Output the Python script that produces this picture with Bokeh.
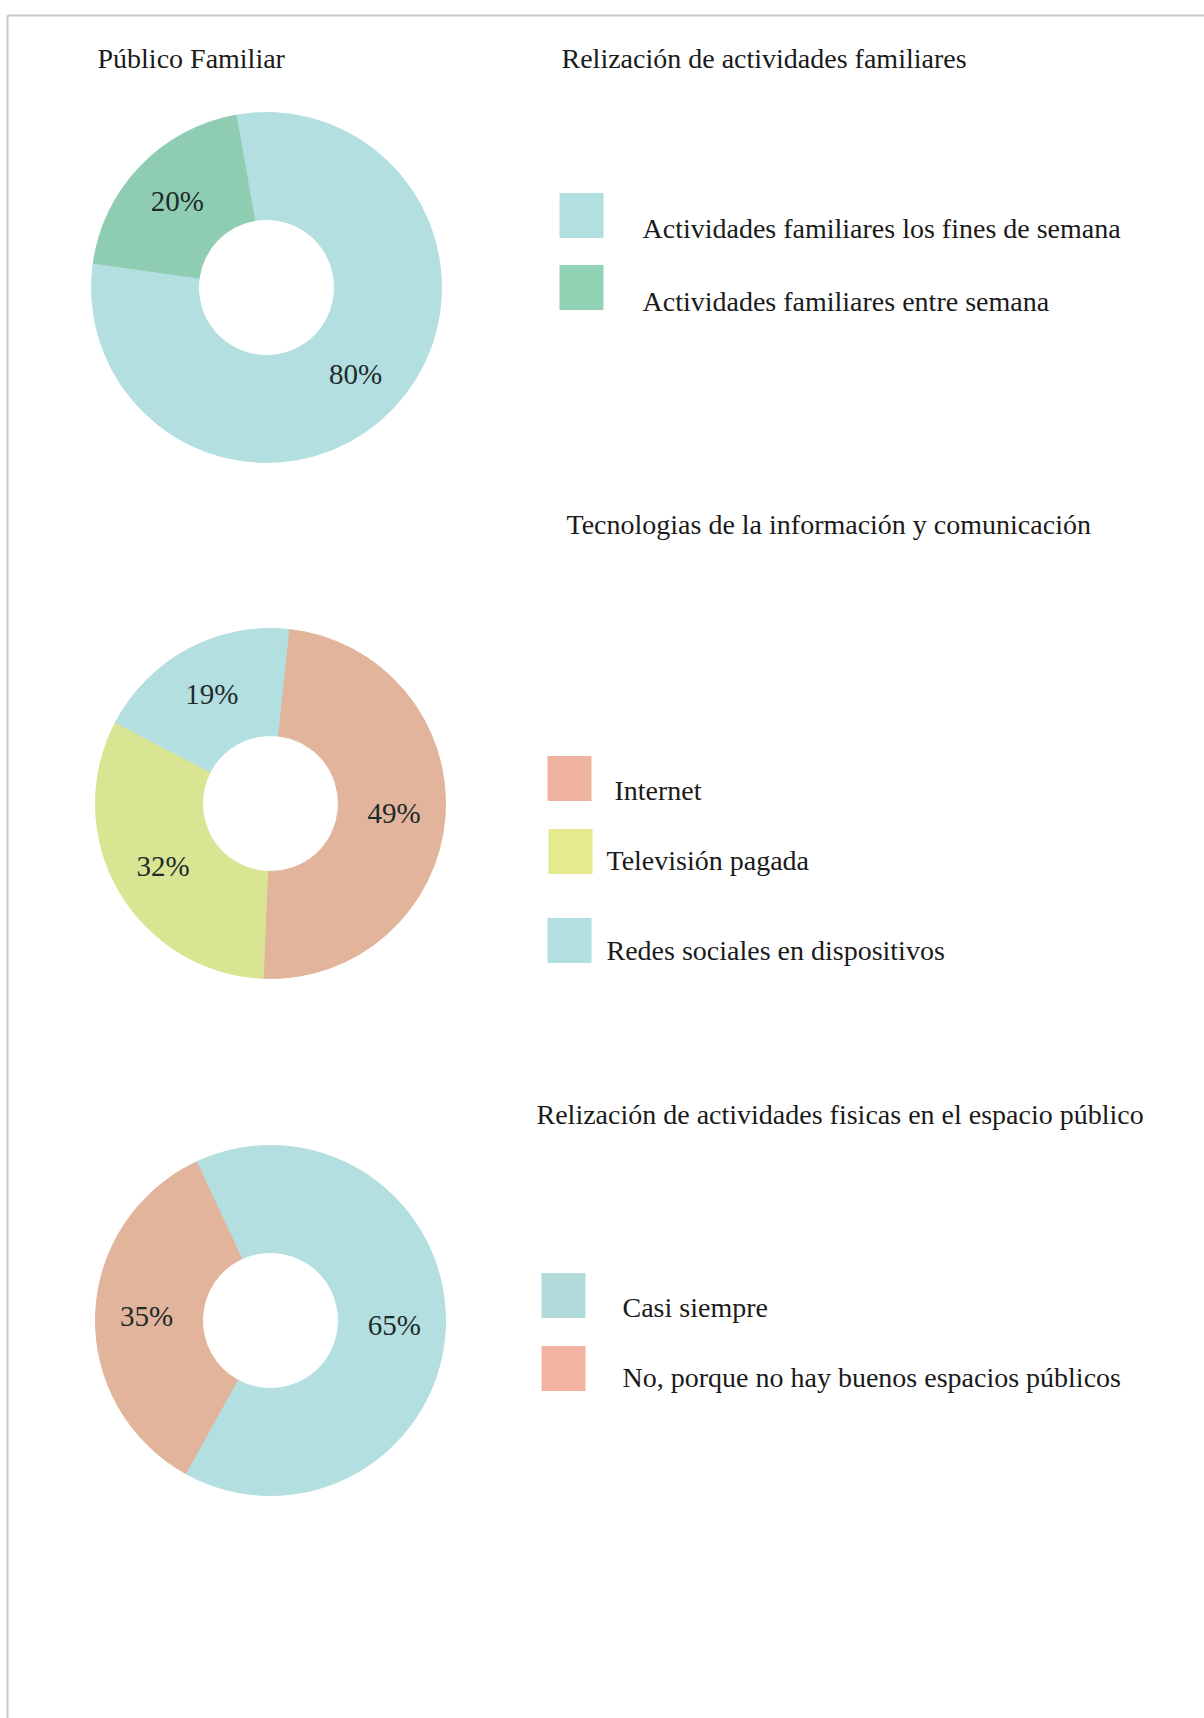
import math
from bokeh.plotting import figure
from bokeh.models import Range1d, ColumnDataSource
from bokeh.core.properties import value
from bokeh.embed import file_html
from bokeh.resources import INLINE

# ---------------- data ----------------
header = "Público Familiar"

fam_title = "Relización de actividades familiares"
fam_cats = ["Actividades familiares los fines de semana", "Actividades familiares entre semana"]
fam_vals = [80, 20]

tic_title = "Tecnologias de la información y comunicación"
tic_cats = ["Internet", "Televisión pagada", "Redes sociales en dispositivos"]
tic_vals = [49, 32, 19]

fis_title = "Relización de actividades fisicas en el espacio público"
fis_cats = ["Casi siempre", "No, porque no hay buenos espacios públicos"]
fis_vals = [65, 35]

# ---------------- styles ----------------
W, H = 1204, 1718
FONT = "Liberation Serif"
BLUE = "#b4dfe0"
GREEN = "#8fcdb2"
TAN = "#e1b49b"
YEL = "#d9e592"

fam_colors = [BLUE, GREEN]
fam_legend_colors = ["#b2dfe0", "#92d3b6"]
tic_colors = [TAN, YEL, BLUE]
tic_legend_colors = ["#efb3a0", "#e6ea8e", "#b2dfe0"]
fis_colors = [BLUE, TAN]
fis_legend_colors = ["#b2dcdc", "#f3b3a2"]

R_OUT, R_IN = 175, 68
TXT_SIZE = "28px"


def Y(ypix):
    return H - ypix


p = figure(width=W, height=H, output_backend="svg", toolbar_location=None,
           x_range=Range1d(0, W), y_range=Range1d(0, H), min_border=0)
p.axis.visible = False
p.grid.visible = False
p.outline_line_color = None
p.background_fill_color = "white"
p.border_fill_color = "white"

# page frame lines
p.line([7, 7], [Y(15), Y(H)], line_color="#c8c8c8", line_width=2)
p.line([7, W], [Y(15), Y(15)], line_color="#c8c8c8", line_width=2)


def donut(cx, cy, vals, colors, start_deg, lab_r=124):
    total = float(sum(vals))
    starts, ends, lx, ly, labs = [], [], [], [], []
    cum = 0.0
    for v in vals:
        a0 = math.radians(start_deg) - 2 * math.pi * cum / total
        cum += v
        a1 = math.radians(start_deg) - 2 * math.pi * cum / total
        starts.append(a0)
        ends.append(a1)
        mid = (a0 + a1) / 2
        lx.append(cx + lab_r * math.cos(mid))
        ly.append(Y(cy) + lab_r * math.sin(mid))
        labs.append(f"{v}%")
    src = ColumnDataSource(dict(start=starts, end=ends, color=colors,
                                lx=lx, ly=ly, lab=labs))
    p.annular_wedge(x=cx, y=Y(cy), inner_radius=R_IN, outer_radius=R_OUT,
                    start_angle="start", end_angle="end", direction="clock",
                    fill_color="color", line_color="color", line_width=1,
                    source=src)
    p.text(x="lx", y="ly", text="lab", source=src, text_font=value(FONT),
           text_font_size="29px", text_color="#1f2b2b", text_align="center",
           text_baseline="middle")


def txt(x, ypix, s, size=TXT_SIZE):
    p.text(x=[x], y=[Y(ypix)], text=[s], text_font=value(FONT), text_font_size=size,
           text_color="#1a1a1a", text_align="left", text_baseline="middle")


def legend(items, colors, xs_sw, ys_sw, xs_t, ys_t):
    for it, c, xs, ys, xt, yt in zip(items, colors, xs_sw, ys_sw, xs_t, ys_t):
        p.rect(x=[xs], y=[Y(ys)], width=44, height=45, fill_color=c, line_color=None)
        txt(xt, yt, it)


# chart 1
donut(266, 287, fam_vals, fam_colors, 100)
txt(97, 58, header)
txt(561, 58, fam_title)
legend(fam_cats, fam_legend_colors, [581, 581], [215, 287], [642, 642], [228, 301])

# chart 2
donut(270, 803, tic_vals, tic_colors, 84)
txt(566, 524, tic_title)
legend(tic_cats, tic_legend_colors, [569, 570, 569], [778, 851, 940],
       [614, 606, 606], [790, 860, 950])

# chart 3
donut(270, 1320, fis_vals, fis_colors, 115)
txt(536, 1114, fis_title)
legend(fis_cats, fis_legend_colors, [563, 563], [1295, 1368], [622, 622], [1307, 1377])

open("out.html", "w").write(file_html(p, INLINE))
